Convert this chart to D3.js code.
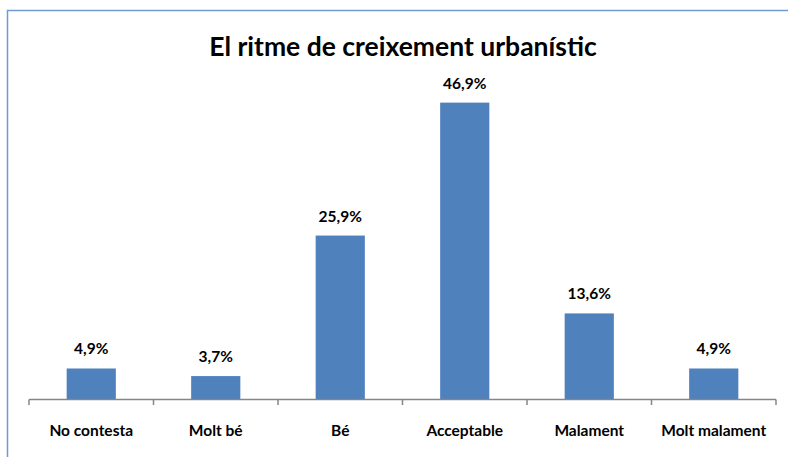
<!DOCTYPE html>
<html><head><meta charset="utf-8">
<script src="https://cdn.jsdelivr.net/npm/d3@7"></script>
<style>body{margin:0;background:#fff}svg{display:block}</style>
</head><body>
<script>
const categories = ["No contesta","Molt bé","Bé","Acceptable","Malament","Molt malament"];
const values = [4.9, 3.7, 25.9, 46.9, 13.6, 4.9];
const labels = ["4,9%","3,7%","25,9%","46,9%","13,6%","4,9%"];
const title = "El ritme de creixement urbanístic";

const W = 788, H = 457;
const font = "Lato, 'Open Sans', sans-serif";
const svg = d3.select("body").append("svg").attr("width", W).attr("height", H);

// chart frame (top and left edges visible)
svg.append("path").attr("d", `M7.5,${H} V10.5 H${W}`)
  .attr("fill", "none").attr("stroke", "#6f9bd1").attr("stroke-width", 1.5);

svg.append("text").attr("x", 403).attr("y", 56).attr("text-anchor", "middle")
  .attr("font-family", font).attr("font-weight", "bold").attr("font-size", 26.5)
  .attr("fill", "#000").text(title);

const x = d3.scaleBand().domain(categories).range([29, 776]).paddingInner(0.605).paddingOuter(0.3025);
const y = d3.scaleLinear().domain([0, 50]).range([399.5, 83]);

svg.selectAll("rect.bar").data(values).join("rect").attr("class", "bar")
  .attr("x", (d, i) => x(categories[i])).attr("width", x.bandwidth())
  .attr("y", d => y(d)).attr("height", d => y(0) - y(d))
  .attr("fill", "#4f81bd");

svg.selectAll("text.val").data(values).join("text").attr("class", "val")
  .attr("x", (d, i) => x(categories[i]) + x.bandwidth() / 2)
  .attr("y", d => y(d) - 14).attr("text-anchor", "middle")
  .attr("font-family", font).attr("font-weight", "bold").attr("font-size", 15.5)
  .attr("fill", "#000").text((d, i) => labels[i]);

// axis line with boundary ticks
const step = x.step();
const ax = svg.append("g");
ax.append("line").attr("x1", 29).attr("x2", 776).attr("y1", 399.5).attr("y2", 399.5)
  .attr("stroke", "#868686").attr("stroke-width", 1.5);
const bounds = d3.range(categories.length + 1).map(i => 29 + i * step);
ax.selectAll("line.tick").data(bounds).join("line").attr("class", "tick")
  .attr("x1", d => d).attr("x2", d => d).attr("y1", 399.5).attr("y2", 405)
  .attr("stroke", "#868686").attr("stroke-width", 1.5);

svg.selectAll("text.cat").data(categories).join("text").attr("class", "cat")
  .attr("x", d => x(d) + x.bandwidth() / 2).attr("y", 436).attr("text-anchor", "middle")
  .attr("font-family", font).attr("font-weight", "bold").attr("font-size", 15.5)
  .attr("fill", "#000").text(d => d);
</script>
</body></html>
